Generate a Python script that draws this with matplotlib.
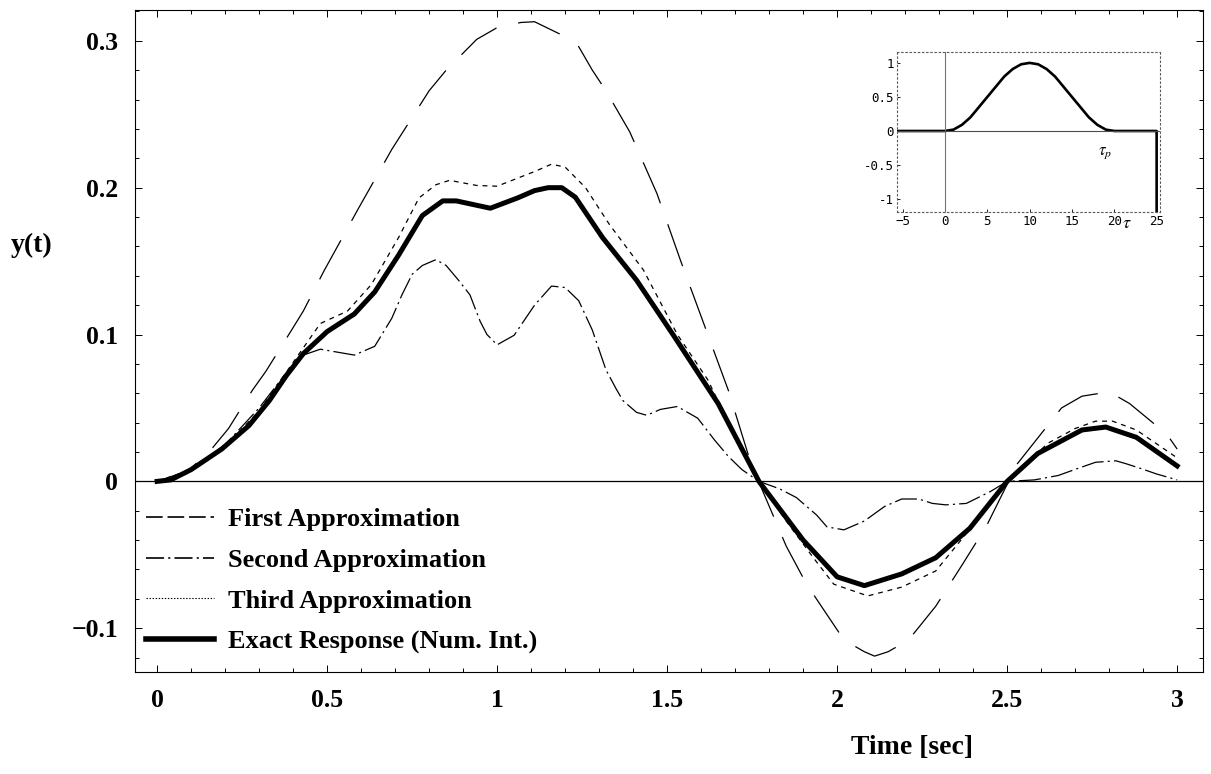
import matplotlib
matplotlib.use("Agg")
import matplotlib.pyplot as plt
from matplotlib.lines import Line2D
from matplotlib.ticker import MultipleLocator

plt.rcParams['lines.scale_dashes'] = False
plt.rcParams['font.family'] = ['Liberation Serif', 'DejaVu Serif']
plt.rcParams['mathtext.fontset'] = 'stix'

# exact response (numerical integration)
t_exact = [0, 0.04, 0.1, 0.19, 0.27, 0.33, 0.38, 0.43, 0.5, 0.58, 0.64, 0.71, 0.78, 0.84, 0.88,
           0.98, 1.06, 1.11, 1.15, 1.19, 1.23, 1.31, 1.41, 1.52, 1.65, 1.77, 1.9, 2.0, 2.08,
           2.19, 2.29, 2.39, 2.5, 2.59, 2.72, 2.79, 2.88, 3.0]
y_exact = [0, 0.001, 0.008, 0.022, 0.038, 0.055, 0.072, 0.087, 0.102, 0.114, 0.129, 0.154, 0.181,
           0.191, 0.191, 0.186, 0.193, 0.198, 0.200, 0.200, 0.1935, 0.166, 0.137, 0.099, 0.053,
           0.0, -0.040, -0.065, -0.071, -0.063, -0.052, -0.032, 0.0, 0.019, 0.035, 0.037, 0.030,
           0.0105]

# first approximation
t_first = [0, 0.05, 0.1, 0.16, 0.21, 0.28, 0.32, 0.39, 0.43, 0.49, 0.59, 0.69, 0.8, 0.85, 0.94,
           1.0, 1.07, 1.11, 1.19, 1.24, 1.28, 1.32, 1.39, 1.47, 1.54, 1.61, 1.68, 1.74, 1.78,
           1.85, 1.91, 2.02, 2.08, 2.11, 2.15, 2.21, 2.29, 2.37, 2.44, 2.53, 2.66, 2.72, 2.8,
           2.86, 2.97, 3.0]
y_first = [0, 0.002, 0.009, 0.022, 0.036, 0.062, 0.075, 0.101, 0.116, 0.143, 0.185, 0.226, 0.266,
           0.280, 0.301, 0.309, 0.3125, 0.313, 0.304, 0.296, 0.280, 0.266, 0.238, 0.196, 0.150,
           0.106, 0.062, 0.017, -0.006, -0.044, -0.070, -0.108, -0.116, -0.119, -0.116, -0.108,
           -0.085, -0.056, -0.030, 0.012, 0.050, 0.058, 0.061, 0.053, 0.032, 0.022]

# second approximation
t_second = [0, 0.1, 0.2, 0.3, 0.38, 0.43, 0.48, 0.58, 0.64, 0.69, 0.72, 0.75, 0.78, 0.82, 0.85,
            0.89, 0.92, 0.95, 0.97, 1.0, 1.05, 1.11, 1.16, 1.2, 1.24, 1.28, 1.32, 1.35, 1.37,
            1.41, 1.44, 1.48, 1.53, 1.56, 1.59, 1.64, 1.68, 1.72, 1.77, 1.83, 1.88, 1.94, 1.97,
            2.02, 2.08, 2.14, 2.19, 2.24, 2.28, 2.32, 2.38, 2.45, 2.5, 2.58, 2.65, 2.71, 2.76,
            2.82, 2.85, 2.89, 2.94, 3.0]
y_second = [0, 0.008, 0.025, 0.05, 0.074, 0.086, 0.090, 0.086, 0.092, 0.111, 0.127, 0.141, 0.147,
            0.151, 0.147, 0.136, 0.127, 0.109, 0.100, 0.093, 0.0995, 0.120, 0.133, 0.132, 0.123,
            0.103, 0.076, 0.063, 0.055, 0.047, 0.045, 0.049, 0.051, 0.047, 0.043, 0.028, 0.017,
            0.008, 0.0, -0.005, -0.011, -0.023, -0.031, -0.033, -0.027, -0.017, -0.012, -0.012,
            -0.015, -0.016, -0.015, -0.007, 0.0, 0.001, 0.004, 0.009, 0.013, 0.014, 0.012, 0.009,
            0.005, 0.001]

# third approximation
t_third = [0, 0.1, 0.2, 0.3, 0.4, 0.48, 0.56, 0.63, 0.71, 0.77, 0.82, 0.86, 0.94, 1.0, 1.11,
           1.16, 1.2, 1.26, 1.33, 1.43, 1.53, 1.62, 1.7, 1.77, 1.85, 1.93, 1.99, 2.09, 2.19,
           2.29, 2.35, 2.42, 2.5, 2.62, 2.7, 2.76, 2.81, 2.88, 3.0]
y_third = [0, 0.008, 0.024, 0.048, 0.081, 0.1075, 0.116, 0.134, 0.166, 0.193, 0.202, 0.205,
           0.2015, 0.201, 0.211, 0.216, 0.214, 0.200, 0.175, 0.144, 0.100, 0.069, 0.030, 0.0,
           -0.027, -0.052, -0.070, -0.078, -0.072, -0.061, -0.044, -0.024, 0.0, 0.026, 0.036,
           0.041, 0.041, 0.035, 0.016]

# inset: input pulse
pulse_tau = [-6, 0, 1, 2, 3, 4, 5, 6, 7, 8, 9, 10, 11, 12, 13, 14, 15, 16, 17, 18, 19, 20, 25, 25]
pulse_val = [0, 0, 0.02, 0.09, 0.2, 0.35, 0.5, 0.65, 0.8, 0.91, 0.98, 1.0, 0.98, 0.91, 0.8, 0.65,
             0.5, 0.35, 0.2, 0.09, 0.02, 0, 0, -1.19]

xtick_vals = [0, 0.5, 1, 1.5, 2, 2.5, 3]
xtick_labels = ['0', '0.5', '1', '1.5', '2', '2.5', '3']
ytick_vals = [-0.1, 0, 0.1, 0.2, 0.3]
ytick_labels = ['\u22120.1', '0', '0.1', '0.2', '0.3']
legend_labels = ['First Approximation', 'Second Approximation', 'Third Approximation',
                 'Exact Response (Num. Int.)']

ins_xticks = [-5, 0, 5, 10, 15, 20, 25]
ins_yticks = [-1, -0.5, 0, 0.5, 1]

fig = plt.figure(figsize=(12.11, 7.74), dpi=100)
ax = fig.add_axes([0.1115, 0.1318, 0.8819, 0.8553])

ax.plot(t_first, y_first, color='black', lw=0.9, dashes=(32, 16))
ax.plot(t_second, y_second, color='black', lw=0.9, dashes=(16, 3, 1.5, 3))
ax.plot(t_third, y_third, color='black', lw=0.9, dashes=(3.5, 3.5))
ax.plot(t_exact, y_exact, color='black', lw=3.6, solid_joinstyle='round')
ax.axhline(0, color='black', lw=0.9)

ax.set_xlim(-0.065, 3.076)
ax.set_ylim(-0.1298, 0.321)
ax.set_xticks(xtick_vals)
ax.set_xticklabels(xtick_labels)
ax.set_yticks(ytick_vals)
ax.set_yticklabels(ytick_labels)
ax.xaxis.set_minor_locator(MultipleLocator(0.1))
ax.yaxis.set_minor_locator(MultipleLocator(0.02))
ax.tick_params(which='both', direction='in', top=True, right=True, width=0.7)
ax.tick_params(which='major', length=5, pad=12, labelsize=18.5)
ax.tick_params(which='minor', length=3)
for lab in ax.get_xticklabels() + ax.get_yticklabels():
    lab.set_fontweight('bold')
for s in ax.spines.values():
    s.set_linewidth(0.8)

fig.text(0.026, 0.683, 'y(t)', fontsize=20, fontweight='bold', ha='center', va='center')
fig.text(0.753, 0.0336, 'Time [sec]', fontsize=20, fontweight='bold', ha='center', va='center')

handles = [Line2D([], [], color='black', lw=1.2, dashes=(12, 3.5)),
           Line2D([], [], color='black', lw=1.2, dashes=(13, 3, 1.5, 3)),
           Line2D([], [], color='black', lw=0.8, dashes=(1, 1.2)),
           Line2D([], [], color='black', lw=4.0)]
ax.legend(handles, legend_labels, loc='upper left', bbox_to_anchor=(0.0103, 0.248),
          frameon=False, handlelength=2.58, handletextpad=0.53, labelspacing=0.65,
          borderpad=0, borderaxespad=0, prop={'weight': 'bold', 'size': 19})

# inset with the pulse shape
ins = fig.add_axes([0.7407, 0.7261, 0.2172, 0.2067])
ins.plot(pulse_tau, pulse_val, color='black', lw=1.9)
ins.axvline(0, color='0.45', lw=0.8)
ins.axhline(0, color='0.3', lw=0.8)
ins.set_xlim(-5.67, 25.4)
ins.set_ylim(-1.19, 1.16)
ins.set_xticks(ins_xticks)
ins.set_yticks(ins_yticks)
ins.set_yticklabels(['-1', '-0.5', '0', '0.5', '1'])
ins.tick_params(direction='in', length=2, labelsize=9, pad=2, width=0.6)
for lab in ins.get_xticklabels() + ins.get_yticklabels():
    lab.set_family('DejaVu Sans Mono')
for s in ins.spines.values():
    s.set_linestyle((0, (1, 2)))
    s.set_color('0.35')
    s.set_linewidth(0.8)
ins.text(18.9, -0.32, r'$\tau_p$', fontsize=12, ha='center', va='center')
ins.text(21.5, -1.36, r'$\tau$', fontsize=13, ha='center', va='center', clip_on=False)

fig.savefig('out.png', dpi=100)
